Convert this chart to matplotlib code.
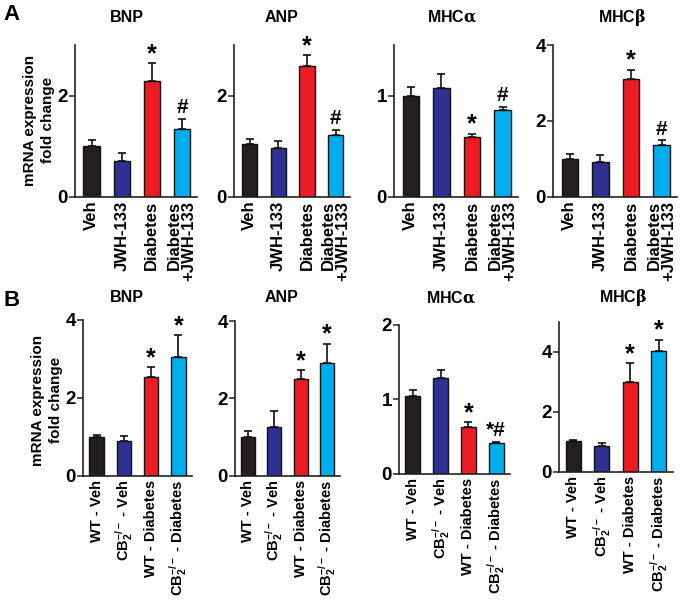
import matplotlib
matplotlib.use("Agg")
import matplotlib.pyplot as plt
from matplotlib import font_manager
import numpy as np

# make sure the regular-width Liberation Sans is used
font_manager.fontManager.ttflist = [f for f in font_manager.fontManager.ttflist
                                    if 'Narrow' not in f.name and 'Narrow' not in f.fname]

plt.rcParams['font.family'] = ['Liberation Sans', 'DejaVu Sans']
plt.rcParams['font.weight'] = 'bold'
plt.rcParams['mathtext.fontset'] = 'custom'
plt.rcParams['mathtext.rm'] = 'Liberation Sans:bold'
plt.rcParams['mathtext.bf'] = 'Liberation Sans:bold'
plt.rcParams['mathtext.it'] = 'DejaVu Serif'

# ---------------- data ----------------
colors = ['#231f20', '#2e3192', '#ed1c24', '#00aeef']

labels_a = ['Veh', 'JWH-133', 'Diabetes', 'Diabetes\n+JWH-133']
labels_b = ['WT - Veh', r'CB$_2^{-/-}$ - Veh', 'WT - Diabetes', r'CB$_2^{-/-}$ - Diabetes']

titles = ['BNP', 'ANP', r'MHC$\alpha$', r'MHC$\beta$']

# Panel A (mean, upper error-bar length)
a_bnp = [1.00, 0.71, 2.28, 1.34]
a_bnp_err = [0.12, 0.15, 0.36, 0.20]
a_anp = [1.03, 0.97, 2.58, 1.21]
a_anp_err = [0.10, 0.12, 0.22, 0.11]
a_mhca = [1.00, 1.07, 0.59, 0.86]
a_mhca_err = [0.085, 0.14, 0.03, 0.03]
a_mhcb = [1.00, 0.92, 3.09, 1.36]
a_mhcb_err = [0.125, 0.18, 0.25, 0.12]
a_marks = [['', '', '*', '#'], ['', '', '*', '#'], ['', '', '*', '#'], ['', '', '*', '#']]

# Panel B
b_bnp = [1.00, 0.90, 2.53, 3.04]
b_bnp_err = [0.05, 0.12, 0.25, 0.57]
b_anp = [0.99, 1.25, 2.51, 2.92]
b_anp_err = [0.17, 0.41, 0.22, 0.49]
b_mhca = [1.04, 1.29, 0.63, 0.41]
b_mhca_err = [0.09, 0.11, 0.06, 0.02]
b_mhcb = [1.01, 0.86, 2.98, 4.03]
b_mhcb_err = [0.03, 0.10, 0.63, 0.36]
b_marks = [['', '', '*', '*'], ['', '', '*', '*'], ['', '', '*', '*#'], ['', '', '*', '*']]

a_ylims = [3, 3, 1.5, 4]
a_yticks = [[0, 2], [0, 2], [0, 1], [0, 2, 4]]
b_ylims = [4, 4, 2, 5]
b_yticks = [[0, 2, 4], [0, 2, 4], [0, 1, 2], [0, 2, 4]]

# ---------------- layout (pixels) ----------------
W, H = 680, 607
fig = plt.figure(figsize=(W / 100, H / 100), dpi=100)

def px_axes(x0, x1, ytop, ybot):
    return fig.add_axes([x0 / W, 1 - ybot / H, (x1 - x0) / W, (ybot - ytop) / H])

a_boxes = [(75, 197, 45, 196.5), (234, 350, 45, 196.5), (394, 518, 45, 196.5), (553, 677, 45, 196.5)]
b_boxes = [(83, 192, 320, 475.5), (235, 340, 321, 475.5), (399, 510, 325, 473.5), (559, 673, 321.5, 471.5)]
a_title_x = [127, 282, 452, 622]
b_title_x = [127, 282, 451, 623]

def draw(ax, vals, errs, ylim, yticks, marks, xlabels, xfs, xlim):
    x = np.arange(len(vals))
    ax.bar(x, vals, width=0.54, color=colors, edgecolor='#111111', linewidth=1.0, zorder=2)
    ax.errorbar(x, vals, yerr=[np.zeros(len(vals)), errs], fmt='none', ecolor='#111111',
                elinewidth=1.2, capsize=3.2, capthick=1.2, zorder=3)
    for xi, v, e, m in zip(x, vals, errs, marks):
        if m:
            fs = 18 if m == '*' else 15
            off = -2 if m == '*' else 1
            ax.annotate(m, xy=(xi, v + e), xytext=(0, off), textcoords='offset points',
                        ha='center', va='bottom', fontsize=fs, fontweight='bold')
    ax.set_ylim(0, ylim)
    ax.set_xlim(*xlim)
    ax.set_yticks(yticks)
    ax.set_yticklabels([str(t) for t in yticks], fontsize=13.5, fontweight='bold')
    ax.set_xticks(x)
    ax.set_xticklabels(xlabels, rotation=90, fontsize=xfs, fontweight='bold',
                       ha='center', va='top', multialignment='right', linespacing=0.95)
    ax.tick_params(axis='x', length=0, pad=3)
    ax.tick_params(axis='y', length=4, width=1.1, pad=1.0, direction='out', color='#222222')
    for s in ['top', 'right']:
        ax.spines[s].set_visible(False)
    for s in ['left', 'bottom']:
        ax.spines[s].set_linewidth(1.2)
        ax.spines[s].set_color('#222222')

a_vals = [a_bnp, a_anp, a_mhca, a_mhcb]
a_errs = [a_bnp_err, a_anp_err, a_mhca_err, a_mhcb_err]
b_vals = [b_bnp, b_anp, b_mhca, b_mhcb]
b_errs = [b_bnp_err, b_anp_err, b_mhca_err, b_mhcb_err]

for i in range(4):
    ax = px_axes(*a_boxes[i])
    draw(ax, a_vals[i], a_errs[i], a_ylims[i], a_yticks[i], a_marks[i], labels_a, 12, (-0.55, 3.5))
    fig.text(a_title_x[i] / W, 1 - 17 / H, titles[i], ha='center', va='center',
             fontsize=11.5, fontweight='bold')
    ax = px_axes(*b_boxes[i])
    draw(ax, b_vals[i], b_errs[i], b_ylims[i], b_yticks[i], b_marks[i], labels_b, 10.5, (-0.5, 3.5))
    fig.text(b_title_x[i] / W, 1 - 298 / H, titles[i], ha='center', va='center',
             fontsize=11.5, fontweight='bold')

fig.text(39 / W, 1 - 120 / H, 'mRNA expression\nfold change', rotation=90, ha='center',
         va='center', fontsize=11, fontweight='bold', linespacing=1.35)
fig.text(47 / W, 1 - 400 / H, 'mRNA expression\nfold change', rotation=90, ha='center',
         va='center', fontsize=11, fontweight='bold', linespacing=1.35)

fig.text(12 / W, 1 - 15 / H, 'A', ha='center', va='center', fontsize=16, fontweight='bold')
fig.text(12 / W, 1 - 300 / H, 'B', ha='center', va='center', fontsize=16, fontweight='bold')

fig.savefig('out.png', dpi=100)
